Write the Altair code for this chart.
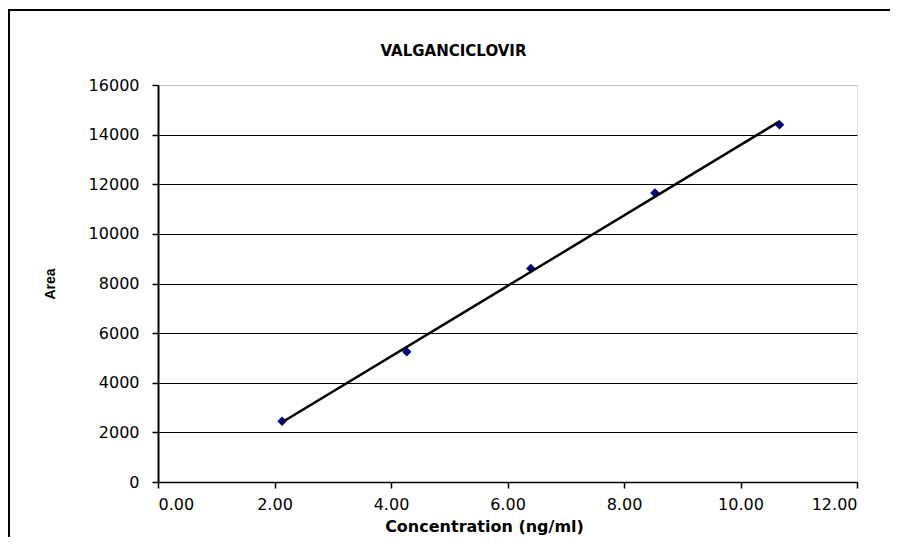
import altair as alt
import pandas as pd

concentration = [2.13, 4.27, 6.40, 8.53, 10.67]
area = [2450, 5250, 8600, 11650, 14400]
x_ticks = [0, 2, 4, 6, 8, 10, 12]
y_ticks = [0, 2000, 4000, 6000, 8000, 10000, 12000, 14000, 16000]

df = pd.DataFrame({"Concentration": concentration, "Area": area})

W, H = 699, 397

x_enc = alt.X(
    "Concentration:Q",
    scale=alt.Scale(domain=[0, 12], nice=False),
    axis=alt.Axis(
        title="Concentration (ng/ml)",
        values=x_ticks,
        format=".2f",
        grid=False,
        domainColor="black",
        domainWidth=1.5,
        tickColor="black",
        tickSize=6,
        tickWidth=1.5,
        labelFont="DejaVu Sans",
        labelFontSize=16,
        labelColor="black",
        labelPadding=8,
        titleFont="DejaVu Sans",
        titleFontSize=16,
        titleFontWeight="bold",
        titleColor="black",
        titleX=326,
        titleY=44,
        titleBaseline="middle",
        titleAlign="center",
    ),
)
y_enc = alt.Y(
    "Area:Q",
    scale=alt.Scale(domain=[0, 16000], nice=False),
    axis=alt.Axis(
        title="Area",
        values=y_ticks,
        format="d",
        grid=True,
        gridColor={"condition": {"test": "datum.value == 16000", "value": "#c0c0c0"}, "value": "black"},
        gridWidth=1.2,
        domainColor="black",
        domainWidth=2,
        tickColor="black",
        tickSize=6,
        tickWidth=1.5,
        labelFont="DejaVu Sans",
        labelFontSize=16,
        labelColor="black",
        labelPadding=13,
        titleFont="Liberation Sans",
        titleFontSize=14,
        titleFontWeight="bold",
        titleColor="black",
        titleX=-108,
        titleY=H / 2,
        titleBaseline="middle",
        titleAlign="center",
    ),
)

frame_top = alt.Chart(df).mark_rule(stroke="black", strokeWidth=2).encode(
    x=alt.value(-150), x2=alt.value(W + 100), y=alt.value(-75)
)
frame_left = alt.Chart(df).mark_rule(stroke="black", strokeWidth=2).encode(
    x=alt.value(-149), y=alt.value(-76), y2=alt.value(H + 100)
)

points = alt.Chart(df).mark_point(
    shape="diamond", filled=True, color="#000080", size=90, opacity=1
).encode(x=x_enc, y=y_enc)

trend = alt.Chart(df).transform_regression(
    "Concentration", "Area", method="linear"
).mark_line(color="black", strokeWidth=2.5).encode(
    x="Concentration:Q", y="Area:Q"
)

chart = alt.layer(frame_top, frame_left, points, trend).properties(
    width=W,
    height=H,
    padding={"left": 150, "top": 77, "right": 33, "bottom": 55},
    autosize=alt.AutoSizeParams(type="none"),
    title=alt.TitleParams(
        "VALGANCICLOVIR",
        font="DejaVu Sans",
        fontSize=15,
        fontWeight="bold",
        color="black",
        anchor="middle",
        frame="group",
        baseline="bottom",
        dx=-54,
        offset=0,
        dy=66,
    ),
).configure_view(stroke=None).configure(background="white")

chart.save("out.html", embed_options={"renderer": "svg", "actions": False})
